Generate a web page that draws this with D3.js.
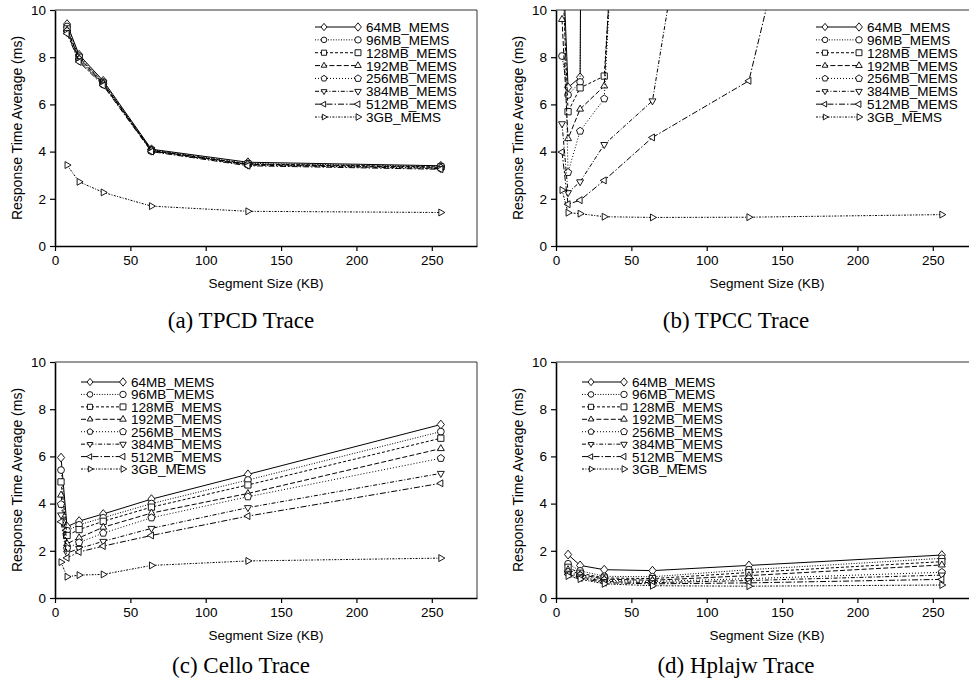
<!DOCTYPE html>
<html>
<head>
<meta charset="utf-8">
<script src="https://cdn.jsdelivr.net/npm/d3@7"></script>
<style>
html,body{margin:0;padding:0;background:#fff;}
svg{display:block;}
</style>
</head>
<body>
<svg id="chart" width="969" height="686"></svg>
<script>
// ---------------- DATA ----------------
const seriesNames = ["64MB_MEMS","96MB_MEMS","128MB_MEMS","192MB_MEMS","256MB_MEMS","384MB_MEMS","512MB_MEMS","3GB_MEMS"];
const xTickValues = [0, 50, 100, 150, 200, 250];
const yTickValues = [0, 2, 4, 6, 8, 10];

// (a) TPCD
const tpcdX = [8, 16, 32, 64, 128, 256];
const tpcdValues = [
  [9.40, 8.10, 7.00, 4.10, 3.55, 3.40],
  [9.30, 8.05, 6.95, 4.08, 3.50, 3.38],
  [9.20, 8.00, 6.90, 4.05, 3.48, 3.35],
  [9.15, 7.95, 6.90, 4.05, 3.46, 3.33],
  [9.10, 7.90, 6.85, 4.03, 3.45, 3.30],
  [9.05, 7.85, 6.85, 4.02, 3.43, 3.28],
  [9.00, 7.80, 6.80, 4.00, 3.40, 3.25],
  [3.43, 2.72, 2.27, 1.69, 1.47, 1.42]
];

// (b) TPCC (values above 10 run off the top of the plot)
const tpccX = [4, 8, 16, 32, 64, 128, 256];
const tpccValues = [
  [13.0, 6.72, 7.15, 200, null, null, null],
  [8.05, 6.40, 6.95, 200, null, null, null],
  [12.0, 5.69, 6.70, 7.20, 40, null, null],
  [9.60, 4.55, 5.80, 6.78, 45, null, null],
  [14.0, 3.12, 4.87, 6.24, 45, null, null],
  [5.18, 2.26, 2.72, 4.30, 6.15, 31, null],
  [3.98, 1.77, 1.94, 2.78, 4.60, 7.00, 41],
  [2.37, 1.41, 1.37, 1.24, 1.21, 1.22, 1.33]
];

// (c) Cello
const celloX = [4, 8, 16, 32, 64, 128, 256];
const celloValues = [
  [5.95, 3.02, 3.26, 3.56, 4.19, 5.24, 7.35],
  [5.42, 2.85, 3.10, 3.40, 4.00, 5.00, 7.05],
  [4.92, 2.65, 2.90, 3.25, 3.85, 4.79, 6.77],
  [4.36, 2.30, 2.55, 3.00, 3.60, 4.43, 6.33],
  [3.97, 2.10, 2.35, 2.75, 3.40, 4.29, 5.92],
  [3.52, 1.90, 2.10, 2.40, 2.95, 3.83, 5.28],
  [3.23, 1.70, 1.95, 2.20, 2.65, 3.47, 4.86],
  [1.52, 0.90, 0.97, 1.00, 1.38, 1.57, 1.69]
];

// (d) Hplajw
const hplajwX = [8, 16, 32, 64, 128, 256];
const hplajwValues = [
  [1.84, 1.38, 1.20, 1.16, 1.38, 1.82],
  [1.45, 1.15, 0.92, 0.90, 1.20, 1.68],
  [1.30, 1.05, 0.85, 0.82, 1.08, 1.54],
  [1.20, 1.00, 0.80, 0.75, 0.95, 1.40],
  [1.10, 0.95, 0.75, 0.70, 0.82, 1.09],
  [1.05, 0.90, 0.70, 0.65, 0.74, 0.97],
  [1.00, 0.85, 0.65, 0.60, 0.64, 0.79],
  [0.93, 0.80, 0.60, 0.52, 0.50, 0.55]
];

const captions = ["(a) TPCD Trace", "(b) TPCC Trace", "(c) Cello Trace", "(d) Hplajw Trace"];
const xTitle = "Segment Size (KB)";
const yTitle = "Response Time Average (ms)";

// ---------------- STYLE ----------------
const dashes = [null, "1,1.6", "3,2", "5,2.2", "1,2", "4,1.8,1,1.8", "6,2,1.5,2", "2,1.4,1,1.4"];
const markerTypes = ["diamond","circle","square","triangleUp","pentagon","triangleDown","triangleLeft","triangleRight"];
const sans = "'Liberation Sans', Arial, Helvetica, sans-serif";
const serif = "'Liberation Serif', 'Times New Roman', Times, serif";

function markerPath(type, r) {
  const poly = pts => "M" + pts.map(p => p[0].toFixed(2) + "," + p[1].toFixed(2)).join("L") + "Z";
  const tri = ang => {
    const pts = [];
    for (let i = 0; i < 3; i++) {
      const a = (ang + i * 120) * Math.PI / 180;
      pts.push([r * Math.cos(a), r * Math.sin(a)]);
    }
    return poly(pts);
  };
  switch (type) {
    case "diamond": return poly([[0,-r*1.1],[r*0.9,0],[0,r*1.1],[-r*0.9,0]]);
    case "circle": {
      const c = r * 0.85;
      return `M${c},0A${c},${c} 0 1,1 ${-c},0A${c},${c} 0 1,1 ${c},0Z`;
    }
    case "square": { const s = r * 0.78; return poly([[-s,-s],[s,-s],[s,s],[-s,s]]); }
    case "triangleUp": return tri(-90);
    case "triangleDown": return tri(90);
    case "triangleLeft": return tri(180);
    case "triangleRight": return tri(0);
    case "pentagon": {
      const pts = [];
      for (let i = 0; i < 5; i++) {
        const a = (-90 + i * 72) * Math.PI / 180;
        pts.push([r * 0.95 * Math.cos(a), r * 0.95 * Math.sin(a)]);
      }
      return poly(pts);
    }
  }
}

const svg = d3.select("#chart");
const plotW = 422, plotH = 236;

const panels = [
  {x: tpcdX, values: tpcdValues, left: 55, top: 10, legendDX: 260, legendDY: 17, legendTextDX: 311, capX: 241, capY: 328},
  {x: tpccX, values: tpccValues, left: 556, top: 10, legendDX: 260, legendDY: 17, legendTextDX: 311, capX: 736, capY: 328},
  {x: celloX, values: celloValues, left: 55, top: 362, legendDX: 26, legendDY: 20, legendTextDX: 76, capX: 241, capY: 673},
  {x: hplajwX, values: hplajwValues, left: 556, top: 362, legendDX: 26, legendDY: 20, legendTextDX: 76, capX: 736, capY: 673}
];

panels.forEach((p, pi) => {
  const g = svg.append("g").attr("transform", `translate(${p.left},${p.top})`);
  const xScale = d3.scaleLinear().domain([0, 280]).range([0, plotW]);
  const yScale = d3.scaleLinear().domain([0, 10]).range([plotH, 0]);

  // frame (top & right)
  g.append("path")
    .attr("d", `M0,0H${plotW}V${plotH}`)
    .attr("fill", "none").attr("stroke", "#333").attr("stroke-width", 1);

  const clipId = "clip" + pi;
  g.append("clipPath").attr("id", clipId)
    .append("rect").attr("x", 0).attr("y", 0).attr("width", plotW).attr("height", plotH);

  const data = g.append("g").attr("clip-path", `url(#${clipId})`);

  p.values.forEach((vals, si) => {
    const pts = p.x.map((xv, i) => ({x: xv, y: vals[i]})).filter(d => d.y != null);
    const line = d3.line().x(d => xScale(d.x)).y(d => yScale(d.y));
    data.append("path")
      .attr("d", line(pts))
      .attr("fill", "none")
      .attr("stroke", "#000")
      .attr("stroke-width", 1)
      .attr("stroke-dasharray", dashes[si]);
    data.selectAll(null).data(pts).enter().append("path")
      .attr("d", markerPath(markerTypes[si], 4))
      .attr("transform", d => `translate(${xScale(d.x)},${yScale(d.y)})`)
      .attr("fill", "#fff")
      .attr("stroke", "#000")
      .attr("stroke-width", 0.9);
  });

  // axes
  const xAxis = d3.axisBottom(xScale).tickValues(xTickValues).tickSize(5).tickSizeOuter(0).tickPadding(4);
  const gx = g.append("g").attr("transform", `translate(0,${plotH})`).call(xAxis);
  const yAxis = d3.axisLeft(yScale).tickValues(yTickValues).tickSize(5).tickSizeOuter(0).tickPadding(4);
  const gy = g.append("g").call(yAxis);
  [gx, gy].forEach(a => {
    a.select(".domain").attr("stroke", "#000").attr("stroke-width", 1.6);
    a.selectAll(".tick line").attr("stroke", "#000").attr("stroke-width", 1.2);
    a.selectAll(".tick text").attr("font-family", sans).attr("font-size", 13.5).attr("fill", "#000");
  });

  // axis titles
  g.append("text")
    .attr("x", plotW / 2).attr("y", plotH + 42)
    .attr("text-anchor", "middle")
    .attr("font-family", sans).attr("font-size", 13.5)
    .text(xTitle);
  g.append("text")
    .attr("transform", `translate(-33,${plotH / 2}) rotate(-90)`)
    .attr("text-anchor", "middle")
    .attr("font-family", sans).attr("font-size", 14)
    .text(yTitle);

  // legend
  const lg = g.append("g");
  const rowH = pi < 2 ? 12.86 : 12.43;
  seriesNames.forEach((name, si) => {
    const yy = p.legendDY + si * rowH;
    lg.append("line")
      .attr("x1", p.legendDX).attr("x2", p.legendTextDX - 8)
      .attr("y1", yy).attr("y2", yy)
      .attr("stroke", "#000").attr("stroke-width", 1)
      .attr("stroke-dasharray", dashes[si]);
    lg.append("path")
      .attr("d", markerPath(markerTypes[si], 3.3))
      .attr("transform", `translate(${p.legendDX + 9},${yy})`)
      .attr("fill", "#fff").attr("stroke", "#000").attr("stroke-width", 0.9);
    lg.append("path")
      .attr("d", markerPath(markerTypes[si], 3.8))
      .attr("transform", `translate(${p.legendTextDX - 8},${yy})`)
      .attr("fill", "#fff").attr("stroke", "#000").attr("stroke-width", 0.9);
    lg.append("text")
      .attr("x", p.legendTextDX).attr("y", yy + 5)
      .attr("font-family", sans).attr("font-size", 13.5)
      .text(name);
  });

  // caption
  svg.append("text")
    .attr("x", p.capX).attr("y", p.capY)
    .attr("text-anchor", "middle")
    .attr("font-family", serif).attr("font-size", 23)
    .text(captions[pi]);
});
</script>
</body>
</html>
